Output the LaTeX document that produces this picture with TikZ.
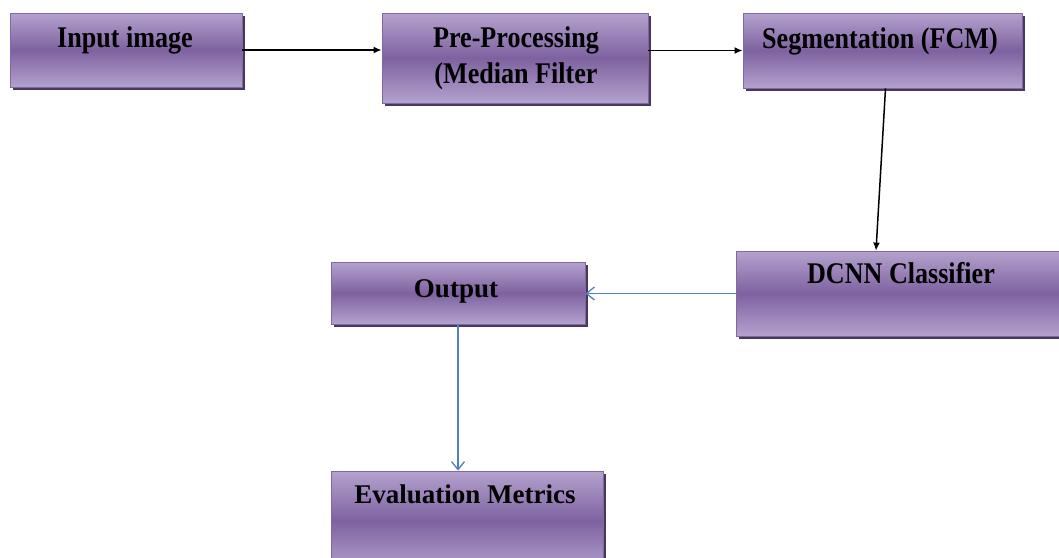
\documentclass[tikz,border=0pt]{standalone}
\usepackage{fontspec}
\setmainfont{Liberation Serif}
\newfontfamily\condfont[FakeStretch=0.87]{Liberation Serif}
\usetikzlibrary{arrows.meta,shadows}
\definecolor{boxlight}{RGB}{180,162,206}
\definecolor{boxmid}{RGB}{126,98,160}
\definecolor{boxedge}{RGB}{128,104,166}
\definecolor{boxshadow}{RGB}{72,56,92}
\definecolor{blueline}{RGB}{79,129,189}
\tikzset{
  box/.style={rectangle, draw=boxedge, line width=0.8pt, inner sep=0pt,
    top color=boxlight, bottom color=boxlight, middle color=boxmid,
    drop shadow={shadow xshift=3pt, shadow yshift=-3pt, fill=boxshadow, opacity=1}},
  lbl/.style={anchor=base, inner sep=0pt, font=\condfont\bfseries\fontsize{30}{36}\selectfont},
  lblb/.style={anchor=base, inner sep=0pt, font=\bfseries\fontsize{27}{32}\selectfont},
  blk/.style={draw=black, line width=1.5pt, -{Latex[length=8pt,width=7pt]}},
  blu/.style={draw=blueline, line width=1.3pt, -{Straight Barb[length=8pt,width=13pt]}}
}
\begin{document}
\begin{tikzpicture}[x=1pt,y=-1pt]
\useasboundingbox (0,0) rectangle (1059,557);
% boxes
\node[box, minimum width=232pt, minimum height=74pt] (in) at (126,50) {};
\node[box, minimum width=266pt, minimum height=90pt] (pre) at (515,58) {};
\node[box, minimum width=279pt, minimum height=75pt] (seg) at (882.5,50.5) {};
\node[box, minimum width=330pt, minimum height=85pt] (dcnn) at (901,293.5) {};
\node[box, minimum width=254pt, minimum height=62pt] (out) at (458,293) {};
\node[box, minimum width=272pt, minimum height=100pt] (ev) at (467,521) {};
% labels
\node[lbl] (tin) at (125,47) {Input image};
\node[lbl] (tpre1) at (516,47) {Pre-Processing};
\node[lbl] (tpre2) at (516,83) {(Median Filter};
\node[lbl] (tseg) at (880,48) {Segmentation (FCM)};
\node[lbl] (tdcnn) at (901,283) {DCNN Classifier};
\node[lblb] (tout) at (456,297) {Output};
\node[lblb] (tev) at (465,503) {Evaluation Metrics};
% connectors
\draw[blk] (in.east) -- (in.east -| pre.west);
\draw[blk] (seg.west -| pre.east) -- (seg.west);
\draw[blk] ([xshift=3pt]seg.south) -- ([xshift=-25pt]dcnn.north);
\draw[blu] (dcnn.west) -- (dcnn.west -| out.east);
\draw[blu] (out.south) -- (out.south |- ev.north);
\end{tikzpicture}
\end{document}
